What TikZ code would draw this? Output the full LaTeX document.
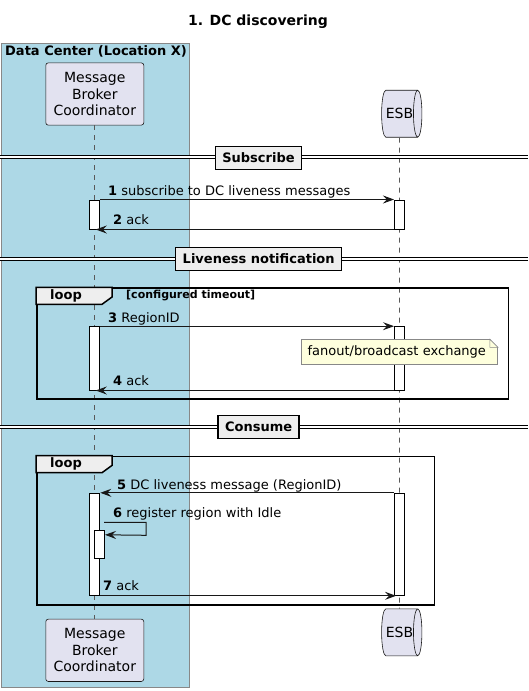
\documentclass[tikz,border=0pt]{standalone}
\usepackage{fontspec}
\setmainfont{DejaVu Sans}
\usepackage{tikz}
\usetikzlibrary{arrows.meta,shapes.geometric}
\definecolor{dcblue}{HTML}{ADD8E6}
\definecolor{partfill}{HTML}{E2E2F0}
\definecolor{partdraw}{HTML}{181818}
\definecolor{divfill}{HTML}{EEEEEE}
\definecolor{notefill}{HTML}{FEFFDD}
\definecolor{notedraw}{HTML}{888888}

\newcommand{\fs}[1]{\fontsize{#1}{#1}\selectfont}

\begin{document}
\begin{tikzpicture}[
    x=1pt, y=-1pt,
    >={Stealth[length=11pt,width=8pt,inset=4pt]},
    font=\fs{13},
    dcbox/.style={
		rectangle,
		draw=notedraw,
		line width=0.8pt,
		fill=dcblue,
		minimum width=188pt,
		minimum height=644pt,
		inner sep=0pt
	},
    partbox/.style={
		rectangle,
		rounded corners=2.5pt,
		draw=partdraw,
		line width=0.6pt,
		fill=partfill,
		align=center,
		minimum width=98pt,
		minimum height=62.3pt,
		font=\fontsize{14}{16.5}\selectfont
	},
    queuebox/.style={
		cylinder,
		aspect=0.8,
		draw=partdraw,
		line width=0.6pt,
		fill=partfill,
		minimum width=47pt,
		minimum height=26pt,
		inner sep=0pt,
		font=\fs{14}
	},
    lifeline/.style={
		draw=black!65,
		line width=0.7pt,
		dash pattern=on 5pt off 5pt
	},
    divline/.style={
		draw=black,
		line width=0.9pt,
		double=white,
		double distance=1.4pt
	},
    divbox/.style={
		rectangle,
		draw=black,
		line width=1.5pt,
		fill=divfill,
		minimum height=23pt,
		inner xsep=7pt,
		font=\bfseries\fs{13}
	},
    actbar/.style={
		rectangle,
		draw=black,
		line width=1pt,
		fill=white,
		minimum width=10pt,
		inner sep=0pt
	},
    msgline/.style={
		->,
		draw=partdraw,
		line width=1pt
	},
    msgtext/.style={
		anchor=base west,
		inner sep=0pt
	},
    loopframe/.style={
		rectangle,
		anchor=north west,
		draw=black,
		line width=1.5pt,
		inner sep=0pt
	},
    looptab/.style={
		draw=black,
		line width=1.5pt,
		fill=divfill
	},
    notebox/.style={
		rectangle,
		anchor=north west,
		draw=notedraw,
		fill=notefill,
		line width=0.6pt,
		minimum height=25pt,
		text width=184pt,
		inner xsep=6pt,
		align=left
	}
  ]
  \useasboundingbox (0,0) rectangle (528,691);

    % box, title and participants
  \node [dcbox, anchor=north west] (dc) at (1,43) {};
  \node [anchor=west, inner sep=0pt, font=\bfseries\fs{13}] (dcname) at (5,51.5) {Data Center (Location X)};
  \node [font=\bfseries\fs{14}] (title) at (258,22) {1. DC discovering};

  \node [partbox] (mbcTop) at (94.8,94) {Message\\Broker\\Coordinator};
  \node [partbox] (mbcBot) at (94.8,650.3) {Message\\Broker\\Coordinator};
  \node [queuebox] (esbTop) at (399.5,113.7) {ESB};
  \node [queuebox] (esbBot) at (399.5,632.3) {ESB};

  \draw [lifeline] (mbcTop) -- (mbcBot);
  \draw [lifeline] (esbTop) -- (esbBot);

    % Subscribe
  \draw [divline] (0,157) -- (528,157);
  \node [divbox] (divSub) at (258.5,158) {Subscribe};

  \node [actbar, minimum height=29pt] (aM1) at (94.8,214.5) {};
  \node [actbar, minimum height=29pt] (aE1) at (399.5,214.5) {};
  \draw [msgline] (aM1.north east) -- (aE1.north west);
  \node [msgtext] (t1) at (108,195.5) {\textbf{1} subscribe to DC liveness messages};
  \draw [msgline] (aE1.south west) -- ([xshift=1pt]aM1.south);
  \node [msgtext] (t2) at (113,224.5) {\textbf{2} ack};

    % Liveness notification
  \draw [divline] (0,259) -- (528,259);
  \node [divbox] (divLive) at (258.7,259) {Liveness notification};

  \node [loopframe, minimum width=471.7pt, minimum height=111pt] (loop1) at (36,287.3) {};
  \draw [looptab] (loop1.north west) -- ++(76,0) -- ++(0,9.7) -- ++(-10,7.3) -- ++(-66,0) -- cycle;
  \node [font=\bfseries\fs{13}] (loop1name) at (66,296) {loop};
  \node [anchor=west, inner sep=0pt, font=\bfseries\fs{11}] (loop1cond) at (126,296) {[configured timeout]};

  \node [actbar, minimum height=63.3pt] (aM2) at (94.8,358.35) {};
  \node [actbar, minimum height=63.3pt] (aE2) at (399.5,358.35) {};
  \draw [msgline] (aM2.north east) -- (aE2.north west);
  \node [msgtext] (t3) at (108,322) {\textbf{3} RegionID};

  \node [notebox] (note1) at (301.3,339.3) {fanout/broadcast exchange};
  \fill [white] ([xshift=-8pt]note1.north east) -- ([xshift=0.5pt,yshift=0.5pt]note1.north east) -- ([yshift=-8pt]note1.north east) -- cycle;
  \draw [draw=notedraw, line width=0.6pt] ([xshift=-8pt]note1.north east) -- ([xshift=-8pt,yshift=-8pt]note1.north east) -- ([yshift=-8pt]note1.north east) -- cycle;

  \draw [msgline] (aE2.south west) -- ([xshift=1pt]aM2.south);
  \node [msgtext] (t4) at (113,385.5) {\textbf{4} ack};

    % Consume
  \draw [divline] (0,427) -- (528,427);
  \node [divbox] (divCon) at (258.7,427) {Consume};

  \node [loopframe, minimum width=397.7pt, minimum height=148.3pt] (loop2) at (36,455.7) {};
  \draw [looptab] (loop2.north west) -- ++(76,0) -- ++(0,9.7) -- ++(-10,7.3) -- ++(-66,0) -- cycle;
  \node [font=\bfseries\fs{13}] (loop2name) at (66,464.3) {loop};

  \node [actbar, minimum height=102pt] (aM3) at (94.8,544.3) {};
  \node [actbar, minimum height=102pt] (aE3) at (399.5,544.3) {};
  \draw [msgline] (aE3.north west) -- (aM3.north east);
  \node [msgtext] (t5) at (117,489) {\textbf{5} DC liveness message (RegionID)};

  \node [actbar, minimum height=28pt] (aM4) at (99.5,544.3) {};
  \coordinate (s6) at (104,522.3);
  \draw [msgline] (s6) -| ++(42,13) -- ([yshift=-5pt]aM4.north east);
  \node [msgtext] (t6) at (113,517.5) {\textbf{6} register region with Idle};

  \draw [msgline] (aM3.south east) -- ([xshift=2pt]aE3.south west);
  \node [msgtext] (t7) at (103,590.5) {\textbf{7} ack};

\end{tikzpicture}
\end{document}
